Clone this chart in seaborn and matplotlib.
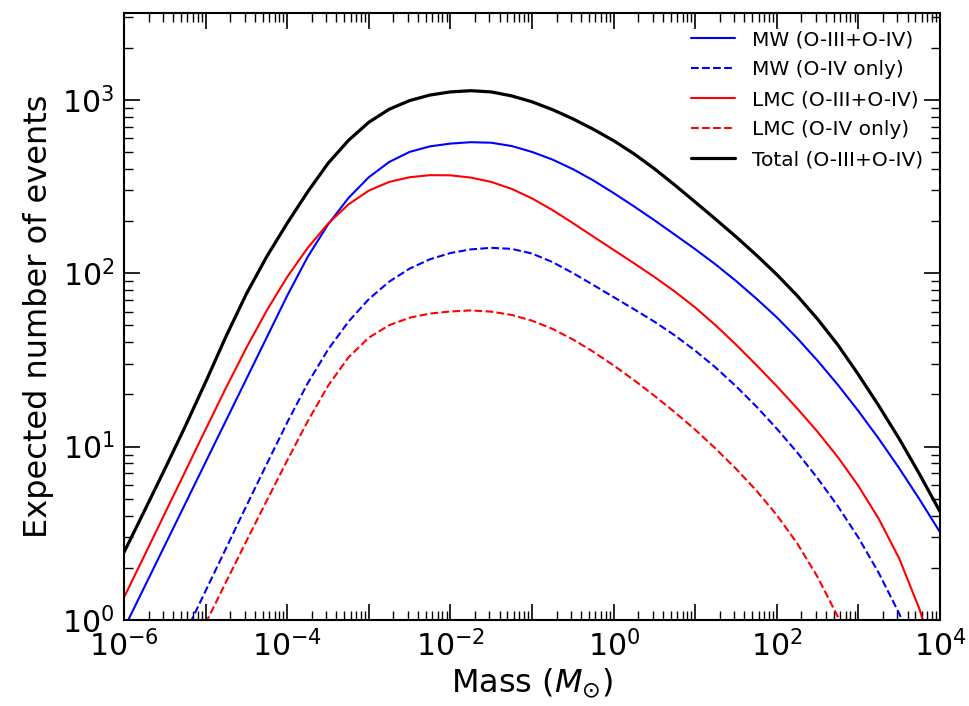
import numpy as np
import pandas as pd
import matplotlib
matplotlib.use("Agg")
import matplotlib.pyplot as plt
import matplotlib.ticker as mticker
import seaborn as sns

# log10 of lens mass (M_sun) sample positions
logm_full = [-6.0, -5.75, -5.5, -5.25, -5.0, -4.75, -4.5, -4.25, -4.0, -3.75, -3.5,
             -3.25, -3.0, -2.75, -2.5, -2.25, -2.0, -1.75, -1.5, -1.25, -1.0, -0.75,
             -0.5, -0.25, 0.0, 0.25, 0.5, 0.75, 1.0, 1.25, 1.5, 1.75, 2.0, 2.25, 2.5,
             2.75, 3.0, 3.25, 3.5, 3.75, 4.0]
logm_mw_o4 = [-5.25, -5.0, -4.75, -4.5, -4.25, -4.0, -3.75, -3.5, -3.25, -3.0, -2.75,
              -2.5, -2.25, -2.0, -1.75, -1.5, -1.25, -1.0, -0.75, -0.5, -0.25, 0.0,
              0.25, 0.5, 0.75, 1.0, 1.25, 1.5, 1.75, 2.0, 2.25, 2.5, 2.75, 3.0, 3.25,
              3.5, 3.75]
logm_lmc_o4 = [-5.0, -4.75, -4.5, -4.25, -4.0, -3.75, -3.5, -3.25, -3.0, -2.75, -2.5,
               -2.25, -2.0, -1.75, -1.5, -1.25, -1.0, -0.75, -0.5, -0.25, 0.0, 0.25,
               0.5, 0.75, 1.0, 1.25, 1.5, 1.75, 2.0, 2.25, 2.5, 2.75, 3.0]

# log10 of expected number of events
log_total = [0.390, 0.629, 0.870, 1.116, 1.372, 1.635, 1.881, 2.096, 2.288, 2.468, 2.633,
             2.765, 2.870, 2.945, 2.995, 3.027, 3.045, 3.052, 3.045, 3.022, 2.988, 2.943,
             2.890, 2.830, 2.764, 2.688, 2.602, 2.508, 2.410, 2.311, 2.210, 2.104, 1.992,
             1.870, 1.735, 1.585, 1.415, 1.235, 1.045, 0.840, 0.625]
log_mw_all = [-0.05, 0.19, 0.43, 0.67, 0.91, 1.15, 1.39, 1.63, 1.87, 2.093, 2.280,
              2.433, 2.553, 2.641, 2.699, 2.731, 2.747, 2.755, 2.752, 2.733, 2.699, 2.655,
              2.600, 2.535, 2.462, 2.385, 2.305, 2.222, 2.138, 2.050, 1.955, 1.853, 1.745,
              1.625, 1.495, 1.355, 1.205, 1.045, 0.875, 0.695, 0.506]
log_lmc_all = [0.130, 0.371, 0.614, 0.856, 1.099, 1.339, 1.570, 1.785, 1.978, 2.145, 2.285,
               2.396, 2.476, 2.526, 2.553, 2.565, 2.564, 2.551, 2.526, 2.486, 2.431, 2.364,
               2.289, 2.211, 2.134, 2.057, 1.978, 1.894, 1.802, 1.699, 1.588, 1.470, 1.348,
               1.220, 1.085, 0.938, 0.773, 0.583, 0.355, 0.061, -0.333]
log_mw_o4 = [-0.077, 0.168, 0.413, 0.658, 0.900, 1.139, 1.364, 1.559, 1.720, 1.850, 1.951,
             2.026, 2.080, 2.116, 2.137, 2.146, 2.140, 2.113, 2.064, 2.001, 1.932, 1.862,
             1.792, 1.720, 1.641, 1.553, 1.456, 1.348, 1.231, 1.103, 0.966, 0.817, 0.655,
             0.475, 0.271, 0.037, -0.238]
log_lmc_o4 = [-0.019, 0.219, 0.455, 0.689, 0.920, 1.145, 1.350, 1.514, 1.628, 1.700, 1.743,
              1.767, 1.779, 1.785, 1.778, 1.759, 1.726, 1.679, 1.618, 1.547, 1.468, 1.383,
              1.293, 1.198, 1.097, 0.988, 0.872, 0.746, 0.605, 0.442, 0.248, 0.017, -0.258]

labels = ["MW (O-III+O-IV)", "MW (O-IV only)", "LMC (O-III+O-IV)",
          "LMC (O-IV only)", "Total (O-III+O-IV)"]

sns.set_style("ticks", rc={"text.color": "black", "axes.labelcolor": "black",
                           "xtick.color": "black", "ytick.color": "black",
                           "axes.edgecolor": "black"})
plt.rcParams['font.family'] = ['DejaVu Sans']

fig = plt.figure(figsize=(9.7, 7.06), dpi=100)
ax = fig.add_axes([124/970, 1-620/706, (940-124)/970, (620-13)/706])

series = [
    (logm_full, log_mw_all, labels[0], "#0000ff", "-", 1.5),
    (logm_mw_o4, log_mw_o4, labels[1], "#0000ff", "--", 1.5),
    (logm_full, log_lmc_all, labels[2], "#ff0000", "-", 1.5),
    (logm_lmc_o4, log_lmc_o4, labels[3], "#ff0000", "--", 1.5),
    (logm_full, log_total, labels[4], "black", "-", 2.3),
]
for lm, lv, lab, col, ls, lw in series:
    df = pd.DataFrame({"mass": 10.0 ** np.array(lm), "events": 10.0 ** np.array(lv)})
    sns.lineplot(data=df, x="mass", y="events", ax=ax, color=col,
                 linestyle=ls, linewidth=lw, label=lab, sort=False)

ax.set_xscale("log")
ax.set_yscale("log")
ax.set_xlim(1e-6, 1e4)
ax.set_ylim(1, 10 ** 3.5)

ax.xaxis.set_major_locator(mticker.LogLocator(base=10, numticks=20))
ax.xaxis.set_major_formatter(mticker.FuncFormatter(
    lambda v, p: r"$10^{%d}$" % round(np.log10(v)) if round(np.log10(v)) % 2 == 0 else ""))
ax.xaxis.set_minor_locator(mticker.LogLocator(base=10, subs=np.arange(2, 10), numticks=100))
ax.xaxis.set_minor_formatter(mticker.NullFormatter())
ax.yaxis.set_major_locator(mticker.LogLocator(base=10, numticks=20))
ax.yaxis.set_minor_locator(mticker.LogLocator(base=10, subs=np.arange(2, 10), numticks=100))
ax.yaxis.set_minor_formatter(mticker.NullFormatter())

ax.tick_params(which="both", direction="in", top=True, right=True, labelsize=21.5,
               color="black", labelcolor="black")
ax.tick_params(which="major", length=11.5, width=1.2, pad=7)
ax.tick_params(which="minor", length=6.5, width=1.0)
for s in ax.spines.values():
    s.set_linewidth(1.5)
    s.set_color("black")

ax.set_xlabel(r"Mass ($M_{\odot}$)", fontsize=23, labelpad=3)
ax.set_ylabel("Expected number of events", fontsize=23, labelpad=6)

leg = ax.legend(loc="upper right", frameon=False, fontsize=14.5,
                handlelength=2.15, handletextpad=0.85, labelspacing=0.55,
                borderaxespad=0.45)

fig.savefig("out.png", dpi=100)
